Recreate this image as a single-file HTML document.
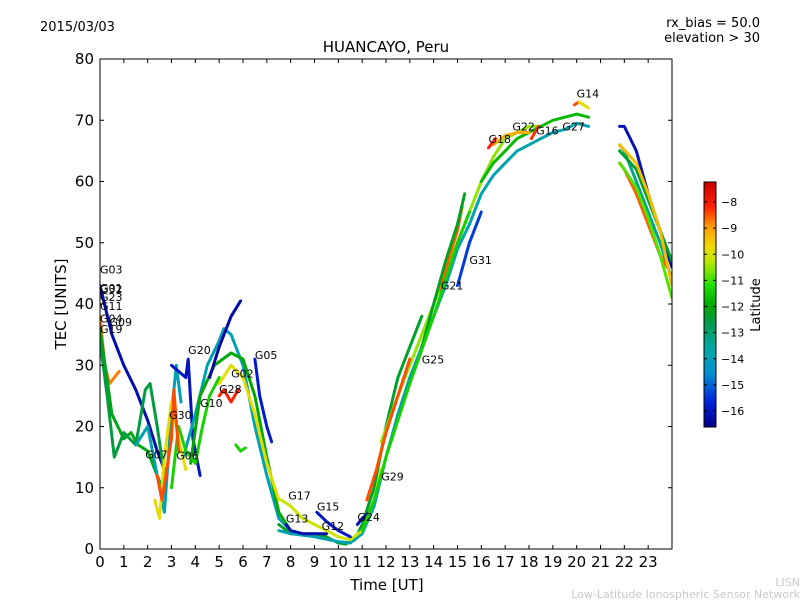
<!DOCTYPE html>
<html><head><meta charset="utf-8">
<style>
body{margin:0;background:#fff;width:800px;height:600px;overflow:hidden;font-family:"DejaVu Sans","Liberation Sans",sans-serif;}
svg text{font-family:"DejaVu Sans","Liberation Sans",sans-serif;}
</style></head>
<body>
<svg id="chart" width="800" height="600" xmlns="http://www.w3.org/2000/svg">
<defs>
<linearGradient id="cb" x1="0" y1="1" x2="0" y2="0">
<stop offset="0" stop-color="#00008c"/>
<stop offset="0.1" stop-color="#0020d8"/>
<stop offset="0.22" stop-color="#0090d0"/>
<stop offset="0.32" stop-color="#00a8a8"/>
<stop offset="0.42" stop-color="#009a50"/>
<stop offset="0.5" stop-color="#00a800"/>
<stop offset="0.58" stop-color="#20e000"/>
<stop offset="0.68" stop-color="#c0e800"/>
<stop offset="0.74" stop-color="#f0d800"/>
<stop offset="0.82" stop-color="#ff9800"/>
<stop offset="0.9" stop-color="#ff2000"/>
<stop offset="1" stop-color="#c80000"/>
</linearGradient>
<clipPath id="pc"><rect x="100" y="59" width="572" height="490"/></clipPath>
</defs>
<text x="40" y="31" font-size="13">2015/03/03</text>
<text x="760" y="27" font-size="13" text-anchor="end">rx_bias = 50.0</text>
<text x="760" y="42" font-size="13" text-anchor="end">elevation &gt; 30</text>
<text x="386" y="52" font-size="15" text-anchor="middle">HUANCAYO, Peru</text>
<g id="series" clip-path="url(#pc)"></g>
<rect x="100" y="59" width="572" height="490" fill="none" stroke="#000" stroke-width="1"/>
<g id="axes"></g>
<g id="labels"></g>
<text x="387" y="590" font-size="15" text-anchor="middle">Time [UT]</text>
<text transform="translate(66,304) rotate(-90)" font-size="15" text-anchor="middle">TEC [UNITS]</text>
<rect x="704" y="182" width="12" height="245" fill="url(#cb)" stroke="#000" stroke-width="1"/>
<g id="cbticks"></g>
<text transform="translate(760,305) rotate(-90)" font-size="13" text-anchor="middle">Latitude</text>
<text x="800" y="586" font-size="11" fill="#c8c8c8" text-anchor="end">LISN</text>
<text x="800" y="598" font-size="11" fill="#c8c8c8" text-anchor="end">Low-Latitude Ionospheric Sensor Network</text>
</svg>
<script>
const NS="http://www.w3.org/2000/svg";
const xTicks=[0,1,2,3,4,5,6,7,8,9,10,11,12,13,14,15,16,17,18,19,20,21,22,23];
const yTicks=[0,10,20,30,40,50,60,70,80];
const cbTicks=[-8,-9,-10,-11,-12,-13,-14,-15,-16];
const seriesLat=[-16.2,-8.8,-12.3,-13.2,-14.6,-16.0,-14.6,-12.0,-16.3,-15.8,-10.0,-8.2,-11.5,
 -12.8,-14.6,-10.2,-10.6,-8.5,-8.6,-12.6,-11.8,-9.3,-8.2,-8.5,-10.0,-15.5,-14.2,-16.1,-8.6,-11.0,-12.8,-16.2,-15.9,-16.2,
 -8.3,-11.5,-11.5,-10.0,-8.5,-9.5];
const seriesT=[
[0,0.5,1,1.5,2,2.4,2.8],
[0,0.2,0.4,0.6,0.8],
[0,0.5,1,1.3,1.6,2,2.3,2.6],
[0,0.3,0.6,1,1.5,1.9,2.1,2.4,2.7],
[1.5,2,2.3,2.5,2.7,3,3.2,3.4],
[3,3.3,3.6,3.7,3.9,4.2],
[3.5,4,4.5,5,5.2,5.5,6,6.5,7,7.5,8],
[3.8,4.2,4.8,5.5,6,6.5,7,7.5,8],
[4.6,5,5.5,5.9],
[6.5,6.7,7,7.2],
[5,5.5,6,6.5,7,7.5],
[5,5.2,5.5,5.8],
[5.7,5.9,6.1],
[7.5,8,8.5,9,9.5,10,10.3,10.7,11,11.5,12,12.5,13,13.5],
[7.5,8,9,10,10.5,11,11.5,12,12.5,13,13.5,14,14.5,15,15.5,16,16.5,17,17.5,18,18.5,19,19.5,20,20.5],
[7.6,8,8.5,9,9.5,10,10.5,11,11.5,11.8],
[11.8,12.5,13,13.5,14,14.5,15,15.5,16,16.5,17,17.5,18,18.5],
[11.2,11.6,12,12.5,13],
[14.3,14.6,15,15.2],
[13.5,14,14.5,15,15.3],
[16,16.5,17,17.5,18,18.5,19,19.5,20,20.5],
[16.5,17,17.5,18],
[16.3,16.6],
[19.9,20.1],
[20.1,20.5],
[15,15.5,16],
[21.8,22,22.5,23,23.5,24],
[21.8,22,22.5,23,23.5,24],
[21.8,22,22.5,23,23.5,23.8],
[21.8,22,22.5,23,23.5,24],
[21.8,22.5,23,23.5,24],
[7.8,8,8.5,9,9.5],
[9.1,9.5,10,10.5],
[10.8,11,11.3],
[18.1,18.4],
[11,11.5,12,13,14,15,15.5],
[3,3.3,3.6,4,4.3,4.6,5],
[2.3,2.5,2.7,3,3.3,3.6],
[2.4,2.6,3,3.1,3.3],
[21.8,22.5,23,23.5,24]
];
const seriesTEC=[
[43,35,30,26,21,16,12],
[38,30,27,28,29],
[36,22,18,19,17,16,13,10],
[34,25,15,19,17,26,27,20,12],
[17,20,14,10,6,22,30,24],
[30,29,28,31,18,12],
[15,22,30,34,36,35,30,20,12,5,3],
[14,25,30,32,31,25,15,6,3],
[28,33,38,40.5],
[31,25,20,17.5],
[27,30,28,22,14,8],
[25,26,24,26],
[17,16,16.5],
[4,2.5,2.5,2.5,2,1,0.8,1.5,4,10,20,28,33,38],
[3,2.5,2,1.2,1,2.5,7,15,22,28,33,38,43,49,53,58,61,63,65,66,67,68,68.5,69.5,69],
[8,7,5,4,3,2,1.5,3,8,13],
[17.5,25,30,35,40,45,50,55,60,64,67,68,69,69],
[8,13,19,25,31],
[42,47,52,56],
[33,40,47,53,58],
[60,63,65,67,68,69,70,70.5,71,70.5],
[66,67.5,68,68],
[65.5,67],
[72.5,73],
[73,72],
[43,50,55],
[66,65,60,55,50,44],
[69,69,65,58,52,46],
[63,62,58,53,48,46],
[63,62,59,54,48,41],
[65,62,57,52,47],
[4,3,2.5,2.5,2.5],
[6,4.5,3,2],
[4,5,6],
[67,69],
[3,8,15,27,38,50,55],
[10,20,16,14,20,25,28],
[8,5,15,24,18,13],
[12,8,18,26,16],
[66,63,58,52,43]
];
const satNames=["G03","G01","G32","G23","G11","G04","G09","G19","G20","G05","G02","G28","G10","G30","G07","G06","G17","G15","G13","G12","G24","G29","G25","G21","G31","G18","G22","G16","G27","G14"];
const satT=[0,0,0,0,0,0,0.4,0,3.7,6.5,5.5,5,4.2,2.9,1.9,3.2,7.9,9.1,7.8,9.3,10.8,11.8,13.5,14.3,15.5,16.3,17.3,18.3,19.4,20];
const satTEC=[45,42,41.8,40.5,39,37,36.4,35.3,31.8,31,28,25.5,23.2,21.2,14.8,14.6,8.1,6.3,4.3,3.1,4.6,11.2,30.3,42.4,46.5,66.3,68.3,67.7,68.3,73.7];

const X=t=>100+t*572/24, Y=v=>549-v*490/80;
const CBY=l=>202+(-8-l)*(411-202)/8;
const stops=[[-16.6,[0,0,140]],[-15.7,[0,32,216]],[-14.9,[0,144,208]],[-14.5,[0,168,168]],[-13.5,[0,154,80]],[-12.0,[0,168,0]],[-11.3,[32,224,0]],[-10.3,[192,232,0]],[-9.9,[240,216,0]],[-9.0,[255,152,0]],[-8.2,[255,32,0]],[-7.2,[200,0,0]]];
function col(l){for(let i=0;i<stops.length-1;i++){const a=stops[i],b=stops[i+1];if(l<=b[0]){const f=Math.max(0,(l-a[0])/(b[0]-a[0]));return 'rgb('+a[1].map((c,k)=>Math.round(c+(b[1][k]-c)*f)).join(',')+')';}}return 'rgb(200,0,0)';}

const sg=document.getElementById('series');
for(let i=0;i<seriesT.length;i++){
  const p=document.createElementNS(NS,'polyline');
  p.setAttribute('points',seriesT[i].map((t,j)=>X(t).toFixed(1)+','+Y(seriesTEC[i][j]).toFixed(1)).join(' '));
  p.setAttribute('fill','none');p.setAttribute('stroke',col(seriesLat[i]));
  p.setAttribute('stroke-width','3');p.setAttribute('stroke-linejoin','round');p.setAttribute('stroke-linecap','round');
  
  
  sg.appendChild(p);
}
const ax=document.getElementById('axes');
function ln(x1,y1,x2,y2,g){const l=document.createElementNS(NS,'line');l.setAttribute('x1',x1);l.setAttribute('y1',y1);l.setAttribute('x2',x2);l.setAttribute('y2',y2);l.setAttribute('stroke','#000');l.setAttribute('stroke-width','1');g.appendChild(l);return l;}
function tx(x,y,s,sz,anc,g){const t=document.createElementNS(NS,'text');t.setAttribute('x',x);t.setAttribute('y',y);t.setAttribute('font-size',sz);t.setAttribute('text-anchor',anc);t.textContent=s;g.appendChild(t);return t;}
xTicks.forEach(v=>{const x=X(v);ln(x,549,x,545,ax);ln(x,59,x,63,ax);
  const t=tx(x,567,String(v),15,'middle',ax);
  
  });
yTicks.forEach(v=>{const y=Y(v);ln(100,y,104,y,ax);ln(672,y,668,y,ax);
  const t=tx(94,y+5,String(v),15,'end',ax);
  
  });
const cg=document.getElementById('cbticks');
cbTicks.forEach(v=>{const y=CBY(v);ln(704,y,707,y,cg);ln(716,y,713,y,cg);
  const t=tx(721,y+4,'\u2212'+String(-v),11,'start',cg);
  
  });
const lg=document.getElementById('labels');
satNames.forEach((n,i)=>{const t=tx(X(satT[i]),Y(satTEC[i]),n,11,'start',lg);
  
  });
</script>
</body></html>
